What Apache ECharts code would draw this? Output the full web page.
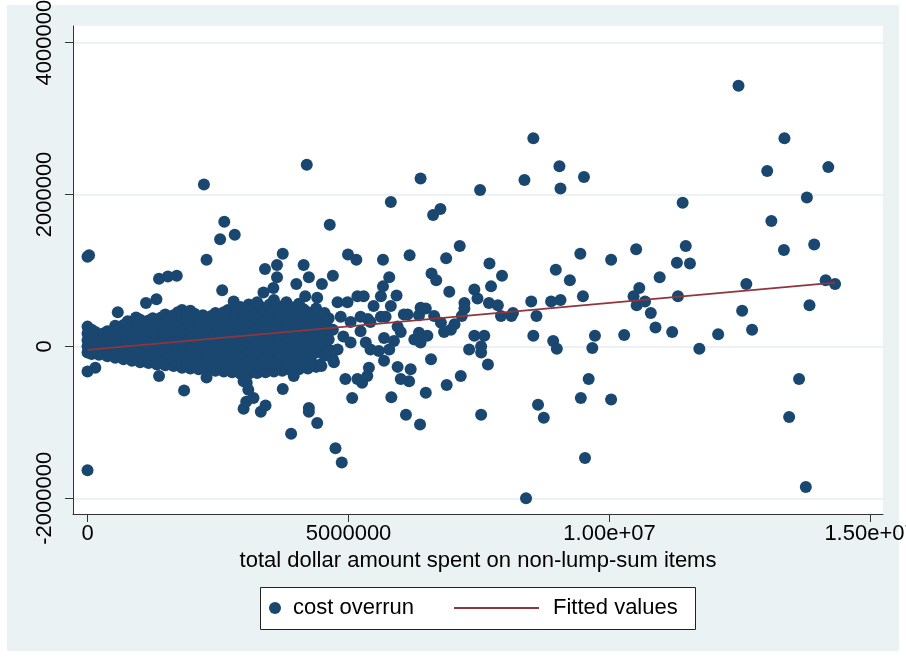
<!DOCTYPE html>
<html>
<head>
<meta charset="utf-8">
<script src="https://cdn.jsdelivr.net/npm/echarts@6/dist/echarts.min.js"></script>
<style>
html,body{margin:0;padding:0;background:#fff;}
#chart{width:906px;height:658px;}
</style>
</head>
<body>
<div id="chart"></div>
<script>
// Values in thousands of dollars: [spend, [cost overrun values at that spend]]
const costOverrunK = [
[0,[-80,0,80,170,260,-330,1180,-1630]],
[30,[-40,40,120,1200]],
[80,[-100,-20,60,140,220]],
[150,[-60,30,110,190,-280]],
[220,[-110,-30,50,130]],
[300,[-80,0,90,170]],
[380,[-130,-50,40,120,200]],
[460,[-100,-10,80,160]],
[530,[-150,-60,30,110,190,270]],
[580,[450]],
[610,[-120,-30,60,140,230]],
[690,[-170,-80,10,100,190,280]],
[770,[-140,-50,50,140,230,330]],
[850,[-190,-100,0,90,180,270]],
[930,[-150,-60,40,130,220,310,380]],
[1010,[-210,-110,-20,80,170,260,350]],
[1090,[-170,-70,30,120,210,300]],
[1120,[570]],
[1170,[-220,-130,-30,60,160,250,340]],
[1250,[-180,-80,10,110,200,290,370]],
[1320,[620]],
[1330,[-240,-140,-40,60,150,240,330]],
[1370,[-390,890]],
[1410,[-200,-100,0,100,190,280,380]],
[1490,[-250,-150,-50,50,140,230,330,420]],
[1540,[920]],
[1570,[-210,-110,-10,90,180,280,370]],
[1650,[-260,-160,-60,40,130,230,320,410]],
[1710,[930]],
[1730,[-220,-120,-20,80,170,270,360,450]],
[1810,[-280,-180,-80,20,120,210,310,400,480]],
[1850,[-580]],
[1890,[-240,-140,-40,60,160,250,350,440]],
[1970,[-290,-190,-90,10,110,200,300,390,470]],
[2050,[-250,-150,-50,50,150,240,340,430]],
[2130,[-300,-200,-100,0,100,190,290,380]],
[2210,[-260,-160,-60,40,140,230,330,410]],
[2230,[2130]],
[2280,[-410,1140]],
[2290,[-310,-210,-110,-10,90,180,280,370]],
[2370,[-270,-170,-70,30,130,220,320,400]],
[2450,[-320,-220,-120,-20,80,170,270,360,440]],
[2530,[-280,-180,-80,20,120,210,310,400]],
[2540,[1410]],
[2580,[740]],
[2610,[-330,-230,-130,-30,70,160,260,350,450]],
[2620,[1640]],
[2690,[-290,-190,-90,10,110,200,300,390,480]],
[2770,[-340,-240,-140,-40,60,150,250,340,440]],
[2800,[590]],
[2820,[1470]],
[2850,[-300,-200,-100,0,100,190,290,380,470]],
[2930,[-360,-260,-160,-60,40,140,240,330,430,520]],
[2990,[-460,-820]],
[3010,[-310,-210,-110,-10,90,190,280,380,470]],
[3040,[-730]],
[3050,[-480]],
[3080,[-570]],
[3090,[-360,-260,-160,-60,40,140,230,330,430,550]],
[3170,[-300,-200,-100,0,100,190,290,390,500]],
[3180,[-680]],
[3250,[-350,-250,-150,-50,50,150,250,350,450,580]],
[3320,[-860]],
[3330,[-290,-190,-90,10,110,210,310,410,520]],
[3370,[710]],
[3400,[1020]],
[3410,[-340,-240,-140,-40,60,160,260,360,470,-780]],
[3490,[-280,-180,-80,20,120,220,320,420,550]],
[3560,[770]],
[3570,[-330,-230,-130,-30,70,170,270,370,480,610]],
[3630,[910,1070]],
[3650,[-270,-170,-70,30,130,230,330,430,530]],
[3730,[-320,-220,-120,-20,80,180,280,380,490]],
[3740,[1220,-560]],
[3810,[-260,-160,-60,40,140,240,340,440,580]],
[3890,[-310,-210,-110,-10,90,190,290,400,520]],
[3900,[-1150]],
[3950,[-390]],
[3970,[-250,-150,-50,50,150,250,350,460]],
[4000,[820]],
[4050,[-300,-200,-100,0,100,200,310,420,560]],
[4140,[-240,-130,-20,80,180,280,380,490,1070]],
[4170,[660]],
[4200,[2390]],
[4220,[-290,-180,-70,40,140,240,350,450]],
[4240,[910,-810,-860]],
[4300,[-220,-110,0,110,210,320,430]],
[4380,[-270,-80,60,170,270,380,500]],
[4400,[640,-1010]],
[4460,[-240,-30,130,240,350]],
[4480,[-260]],
[4490,[820]],
[4540,[-120,30,190,300,440]],
[4620,[-40,90,240,370]],
[4640,[1600]],
[4700,[930,220,-170]],
[4720,[-210]],
[4750,[-1340]],
[4790,[580,-40]],
[4850,[390]],
[4870,[-1530]],
[4900,[130]],
[4940,[-430]],
[4980,[580]],
[4990,[1210]],
[5040,[320,50]],
[5070,[-680]],
[5150,[1140]],
[5170,[660,-430]],
[5230,[390,200]],
[5260,[-480]],
[5290,[660]],
[5330,[50]],
[5360,[-390]],
[5370,[360]],
[5390,[-280]],
[5420,[320,-40]],
[5480,[530]],
[5580,[-60]],
[5620,[390,660]],
[5660,[790,1140]],
[5680,[110,-190]],
[5710,[390]],
[5780,[-40,910]],
[5810,[530,1900]],
[5820,[-670]],
[5870,[70]],
[5920,[670]],
[5940,[260,-270]],
[6000,[190,-430]],
[6060,[420]],
[6100,[-900]],
[6130,[420]],
[6160,[-460]],
[6170,[1200]],
[6190,[-300]],
[6260,[90]],
[6350,[180,410]],
[6370,[-1030]],
[6380,[50,510,2210]],
[6480,[500,-610]],
[6510,[140]],
[6580,[-170]],
[6590,[960]],
[6620,[1730]],
[6640,[400]],
[6680,[870]],
[6760,[1810]],
[6770,[310]],
[6830,[190]],
[6870,[1160]],
[6880,[-510]],
[6930,[720]],
[6960,[220]],
[7030,[290]],
[7130,[1320]],
[7150,[-390]],
[7170,[400]],
[7220,[570,500]],
[7310,[-40]],
[7410,[750,140]],
[7470,[630]],
[7520,[2060]],
[7540,[0,-80,-900]],
[7600,[140]],
[7670,[-240]],
[7690,[570]],
[7700,[1090]],
[7730,[790]],
[7860,[540]],
[7920,[400]],
[7940,[930]],
[8120,[400]],
[8150,[440]],
[8370,[2190]],
[8400,[-2000]],
[8500,[590]],
[8540,[140,2740]],
[8600,[400]],
[8630,[-770]],
[8740,[-940]],
[8880,[590]],
[8920,[70]],
[8970,[1010]],
[8990,[-30]],
[9040,[2370]],
[9060,[2080,610]],
[9240,[870]],
[9440,[1220]],
[9450,[-680]],
[9490,[660]],
[9510,[2230]],
[9530,[-1470]],
[9600,[-430]],
[9670,[-20]],
[9720,[140]],
[10030,[1140,-700]],
[10280,[150]],
[10460,[660]],
[10510,[1280]],
[10520,[540]],
[10570,[770]],
[10680,[590]],
[10790,[440]],
[10880,[250]],
[10960,[910]],
[11200,[190]],
[11290,[1100]],
[11310,[660]],
[11400,[1890]],
[11460,[1320]],
[11540,[1090]],
[11720,[-30]],
[12080,[160]],
[12470,[3430]],
[12540,[470]],
[12620,[820]],
[12730,[220]],
[13020,[2310]],
[13100,[1650]],
[13340,[1270]],
[13350,[2740]],
[13440,[-930]],
[13630,[-430]],
[13760,[-1850]],
[13780,[1960]],
[13830,[540]],
[13920,[1340]],
[14140,[870]],
[14190,[2360]],
[14320,[820]]
];

// Fitted values line (endpoints, thousands of dollars)
const fittedSpendK = [0, 14320];
const fittedValueK = [-45, 840];

// Tick values and labels
const xTickValues = [0, 5000000, 10000000, 15000000];
const xTickLabels = ['0', '5000000', '1.00e+07', '1.50e+07'];
const yTickValues = [-2000000, 0, 2000000, 4000000];
const yTickLabels = ['-2000000', '0', '2000000', '4000000'];

const seriesNames = ['cost overrun', 'Fitted values'];
const xTitle = 'total dollar amount spent on non-lump-sum items';

const scatterData = [];
costOverrunK.forEach(function (col) {
  col[1].forEach(function (v) { scatterData.push([col[0] * 1000, v * 1000]); });
});
const fitData = fittedSpendK.map(function (x, i) { return [x * 1000, fittedValueK[i] * 1000]; });

const FONT = '"Liberation Sans", Arial, sans-serif';
const chart = echarts.init(document.getElementById('chart'), null, {renderer: 'canvas'});
chart.setOption({
  animation: false,
  backgroundColor: '#ffffff',
  textStyle: {fontFamily: FONT},
  graphic: {elements: [
    {type: 'rect', z: -100, silent: true, shape: {x: 7, y: 5, width: 892, height: 646}, style: {fill: '#eaf2f3'}},
    {type: 'rect', z: 1, silent: true, shape: {x: 260.5, y: 587.5, width: 435, height: 42}, style: {fill: '#ffffff', stroke: '#222', lineWidth: 1}}
  ]},
  grid: {left: 73, right: 23, top: 26, bottom: 144, show: true, backgroundColor: '#ffffff', borderWidth: 0, containLabel: false, outerBoundsMode: 'none'},
  xAxis: {
    type: 'value', min: -278000, max: 15238000,
    name: xTitle, nameLocation: 'middle', nameGap: 36,
    nameTextStyle: {fontSize: 22, color: '#000', fontFamily: FONT},
    axisLine: {show: true, onZero: false, lineStyle: {color: '#333', width: 1}},
    axisTick: {show: true, length: 8, customValues: xTickValues, lineStyle: {color: '#333', width: 1}},
    axisLabel: {customValues: xTickValues, fontSize: 22, color: '#000', margin: 9, fontFamily: FONT,
      formatter: function (v) { var i = xTickValues.indexOf(v); return i >= 0 ? xTickLabels[i] : ''; }},
    splitLine: {show: false}
  },
  yAxis: {
    type: 'value', min: -2207000, max: 4218000,
    axisLine: {show: true, onZero: false, lineStyle: {color: '#333', width: 1}},
    axisTick: {show: true, length: 8, customValues: yTickValues, lineStyle: {color: '#333', width: 1}},
    axisLabel: {customValues: yTickValues, rotate: 90, fontSize: 22, color: '#000', margin: 17, fontFamily: FONT,
      formatter: function (v) { var i = yTickValues.indexOf(v); return i >= 0 ? yTickLabels[i] : ''; }},
    splitLine: {show: true, lineStyle: {color: '#e6eef1', width: 1.5}}
  },
  legend: [
    {data: [seriesNames[0]], left: 269, top: 597, padding: 0, itemWidth: 12, itemHeight: 12, icon: 'circle',
      textStyle: {fontSize: 22, color: '#000', fontFamily: FONT, padding: [0, 0, 0, 7]}},
    {data: [seriesNames[1]], left: 454, top: 597, padding: 0, itemWidth: 85, itemHeight: 2, icon: 'rect',
      itemStyle: {color: '#90353b'},
      textStyle: {fontSize: 22, color: '#000', fontFamily: FONT, padding: [0, 0, 0, 9]}}
  ],
  series: [
    {name: seriesNames[0], type: 'scatter', data: scatterData, symbol: 'circle', symbolSize: 12,
      itemStyle: {color: '#1a476f', opacity: 1}, z: 2},
    {name: seriesNames[1], type: 'line', data: fitData, symbol: 'none', showSymbol: false,
      lineStyle: {color: '#90353b', width: 1.8}, itemStyle: {color: '#90353b'}, z: 3}
  ]
});
</script>
</body>
</html>
